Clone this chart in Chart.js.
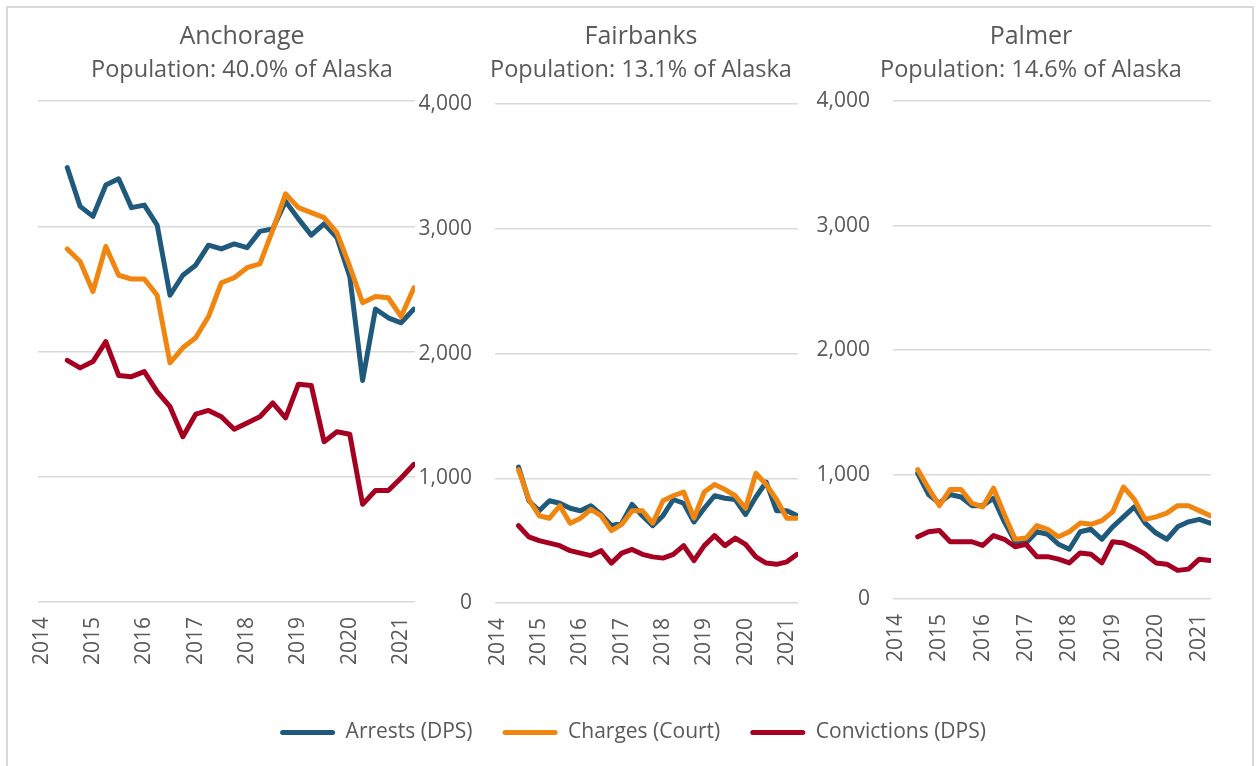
<!DOCTYPE html>
<html>
<head>
<meta charset="utf-8">
<script src="https://cdn.jsdelivr.net/npm/chart.js@4"></script>
<style>
    body { margin: 0; background: #fff; }
    #frame {
        position: absolute;
        left: 6px;
        top: 6px;
        width: 1248px;
        height: 800px;
        border: 2px solid #d9d9d9;
        box-sizing: border-box;
    }
    canvas { position: absolute; }
</style>
</head>
<body>
<div id="frame"></div>
<canvas id="anchorage" width="468" height="672" style="left:8px;top:0"></canvas>
<canvas id="fairbanks" width="462" height="673" style="left:410px;top:0"></canvas>
<canvas id="palmer" width="438" height="669" style="left:812px;top:0"></canvas>
<canvas id="legend" width="1256" height="240" style="left:5px;top:692px"></canvas>
<script>
const quarters = [
    '2014 Q3', '2014 Q4',
    '2015 Q1', '2015 Q2', '2015 Q3', '2015 Q4',
    '2016 Q1', '2016 Q2', '2016 Q3', '2016 Q4',
    '2017 Q1', '2017 Q2', '2017 Q3', '2017 Q4',
    '2018 Q1', '2018 Q2', '2018 Q3', '2018 Q4',
    '2019 Q1', '2019 Q2', '2019 Q3', '2019 Q4',
    '2020 Q1', '2020 Q2', '2020 Q3', '2020 Q4',
    '2021 Q1', '2021 Q2',
];
const yearTicks = [2014, 2015, 2016, 2017, 2018, 2019, 2020, 2021];
const countTicks = [0, 1000, 2000, 3000, 4000];

const seriesNames = ['Arrests (DPS)', 'Charges (Court)', 'Convictions (DPS)'];
const seriesColors = ['#1f5a7d', '#f0860f', '#a50021'];

const anchorageArrests = [3470, 3160, 3080, 3330, 3380, 3150, 3170, 3010, 2450, 2610, 2690, 2850, 2820, 2860, 2830, 2960, 2980, 3200, 3060, 2930, 3020, 2910, 2600, 1770, 2340, 2270, 2230, 2340];
const anchorageCharges = [2820, 2720, 2480, 2840, 2610, 2580, 2580, 2450, 1910, 2030, 2110, 2280, 2550, 2590, 2670, 2700, 2970, 3260, 3150, 3110, 3070, 2950, 2680, 2390, 2440, 2430, 2280, 2510];
const anchorageConvictions = [1930, 1870, 1920, 2080, 1810, 1800, 1840, 1680, 1560, 1320, 1500, 1530, 1480, 1380, 1430, 1480, 1590, 1470, 1740, 1730, 1280, 1360, 1340, 780, 890, 890, 990, 1100];

const fairbanksArrests = [1090, 820, 740, 820, 800, 760, 740, 780, 710, 620, 640, 790, 700, 620, 700, 830, 800, 650, 760, 860, 840, 830, 710, 850, 970, 740, 740, 700];
const fairbanksCharges = [1070, 830, 700, 680, 780, 640, 680, 750, 700, 580, 630, 740, 740, 640, 820, 860, 890, 680, 890, 950, 910, 860, 760, 1040, 950, 830, 680, 680];
const fairbanksConvictions = [620, 530, 500, 480, 460, 420, 400, 380, 420, 320, 400, 430, 390, 370, 360, 390, 460, 340, 460, 540, 460, 520, 470, 370, 320, 310, 330, 390];

const palmerArrests = [1010, 840, 770, 840, 820, 750, 750, 810, 620, 460, 450, 540, 520, 440, 400, 540, 560, 480, 580, 660, 740, 610, 530, 480, 580, 620, 640, 610];
const palmerCharges = [1040, 890, 750, 880, 880, 770, 740, 890, 680, 480, 490, 590, 560, 500, 540, 610, 600, 630, 700, 900, 800, 640, 660, 690, 750, 750, 710, 670];
const palmerConvictions = [500, 540, 550, 460, 460, 460, 430, 510, 480, 420, 440, 340, 340, 320, 290, 370, 360, 290, 460, 450, 410, 360, 290, 280, 230, 240, 320, 310];

const textColor = '#595959';
Chart.defaults.font.family = "'Open Sans', sans-serif";
Chart.defaults.color = textColor;

// '2015 Q3' -> 2015.5
function quarterX(q) {
    const [year, n] = q.split(' Q');
    return Number(year) + (Number(n) - 1) / 4;
}

function makePanel(id, title, subtitle, series, box) {
    const datasets = series.map((values, i) => ({
        label: seriesNames[i],
        data: values.map((v, j) => ({ x: quarterX(quarters[j]), y: v })),
        borderColor: seriesColors[i],
        borderWidth: 5,
        borderJoinStyle: 'round',
        borderCapStyle: 'round',
        pointRadius: 0,
        tension: 0,
        order: 3 - i, // convictions on top, arrests underneath
        xAxisID: 'x',
        yAxisID: 'y',
    }));

    return new Chart(document.getElementById(id), {
        type: 'line',
        data: { datasets },
        options: {
            responsive: false,
            animation: false,
            devicePixelRatio: 1,
            layout: { padding: 0 },
            plugins: {
                legend: { display: false },
                tooltip: { enabled: false },
                title: {
                    display: true,
                    text: title,
                    color: textColor,
                    font: { size: 25, weight: 'normal' },
                    padding: { top: 22, bottom: 0 },
                },
                subtitle: {
                    display: true,
                    text: subtitle,
                    color: textColor,
                    font: { size: 23.5, weight: 'normal' },
                    padding: { top: 4, bottom: box.subBottom },
                },
            },
            scales: {
                x: {
                    type: 'linear',
                    min: 2013.93,
                    max: 2021.27,
                    afterBuildTicks: (s) => {
                        s.ticks = yearTicks.map((v) => ({ value: v }));
                    },
                    afterFit: (s) => {
                        s.height = 70;
                    },
                    grid: { display: false, drawTicks: false },
                    border: { display: false },
                    ticks: {
                        autoSkip: false,
                        minRotation: 90,
                        maxRotation: 90,
                        padding: 15,
                        color: textColor,
                        font: { size: 21 },
                        callback: (v) => String(v),
                    },
                },
                y: {
                    type: 'linear',
                    position: 'left',
                    min: 0,
                    max: 4000,
                    afterBuildTicks: (s) => {
                        s.ticks = countTicks.map((v) => ({ value: v }));
                    },
                    afterFit: (s) => {
                        s.width = box.left;
                    },
                    grid: { color: '#d9d9d9', lineWidth: 1.5, drawTicks: false },
                    border: { display: false },
                    ticks: {
                        display: box.labels,
                        padding: 23,
                        color: textColor,
                        font: { size: 21 },
                        callback: (v) => v.toLocaleString('en-US'),
                    },
                },
                // empty right-hand gutter so the titles sit where they should
                gutter: {
                    type: 'linear',
                    axis: 'y',
                    position: 'right',
                    afterFit: (s) => {
                        s.width = box.right;
                    },
                    grid: { display: false, drawTicks: false },
                    border: { display: false },
                    ticks: { display: false },
                },
            },
        },
    });
}

makePanel('anchorage', 'Anchorage', 'Population: 40.0% of Alaska',
    [anchorageArrests, anchorageCharges, anchorageConvictions],
    { left: 30, right: 61, labels: false, subBottom: 17 });

makePanel('fairbanks', 'Fairbanks', 'Population: 13.1% of Alaska',
    [fairbanksArrests, fairbanksCharges, fairbanksConvictions],
    { left: 85, right: 74, labels: true, subBottom: 20 });

makePanel('palmer', 'Palmer', 'Population: 14.6% of Alaska',
    [palmerArrests, palmerCharges, palmerConvictions],
    { left: 81, right: 39, labels: true, subBottom: 17 });

// shared legend underneath the three panels
new Chart(document.getElementById('legend'), {
    type: 'line',
    data: {
        datasets: seriesNames.map((name, i) => ({
            label: name,
            data: [],
            borderColor: seriesColors[i],
            backgroundColor: seriesColors[i],
            borderWidth: 0,
        })),
    },
    options: {
        responsive: false,
        animation: false,
        devicePixelRatio: 1,
        scales: { x: { display: false }, y: { display: false } },
        plugins: {
            tooltip: { enabled: false },
            legend: {
                position: 'top',
                labels: {
                    boxWidth: 55,
                    boxHeight: 5,
                    padding: 30,
                    color: textColor,
                    font: { size: 21 },
                    useBorderRadius: true,
                    borderRadius: 2.5,
                },
            },
        },
    },
});
</script>
</body>
</html>
